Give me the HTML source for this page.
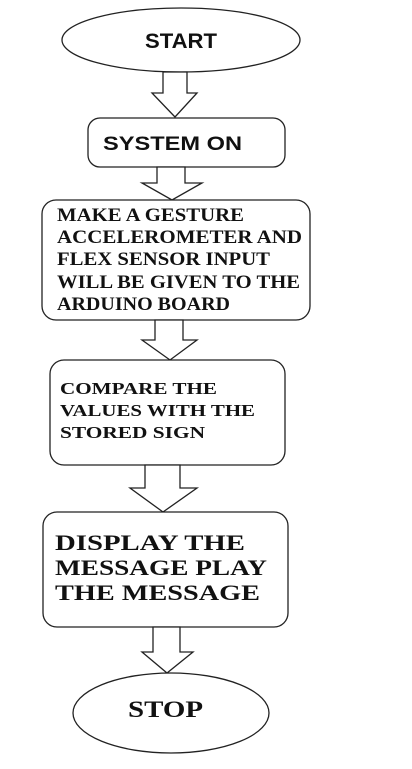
<!DOCTYPE html>
<html><head><meta charset="utf-8"><style>
html,body{margin:0;padding:0;background:#fff;}
svg{display:block;}
.s{font-family:"Liberation Sans",Arial,sans-serif;font-weight:bold;fill:#111;}
.t{font-family:"Liberation Serif","Times New Roman",serif;font-weight:bold;fill:#111;}
</style></head><body>
<svg width="412" height="769" viewBox="0 0 412 769" xmlns="http://www.w3.org/2000/svg">
<g fill="#fff" stroke="#222" stroke-width="1.3">
<ellipse cx="181" cy="40" rx="119" ry="32"/>
<polygon points="163,72 187,72 187,93 197,93 175,117 152,93 163,93"/>
<rect x="88" y="118" width="197" height="49" rx="12"/>
<polygon points="157,167 185,167 185,183 202,183 172,200 142,183 157,183"/>
<rect x="42" y="200" width="268" height="120" rx="14"/>
<polygon points="155,320 183,320 183,340 197,340 170,360 142,340 155,340"/>
<rect x="50" y="360" width="235" height="105" rx="14"/>
<polygon points="145,465 180,465 180,488 197,488 163,512 130,488 145,488"/>
<rect x="43" y="512" width="245" height="115" rx="14"/>
<polygon points="153,627 180,627 180,652 193,652 167,673 142,652 153,652"/>
<ellipse cx="171" cy="713" rx="98" ry="40"/>
</g>
<text class="s" x="145" y="48" font-size="21" textLength="72" lengthAdjust="spacingAndGlyphs">START</text>
<text class="s" x="103" y="150" font-size="19" textLength="139" lengthAdjust="spacingAndGlyphs">SYSTEM ON</text>
<g class="t" font-size="18.5" lengthAdjust="spacingAndGlyphs">
<text x="57" y="221" textLength="187" lengthAdjust="spacingAndGlyphs">MAKE A GESTURE</text>
<text x="57" y="243" textLength="245" lengthAdjust="spacingAndGlyphs">ACCELEROMETER AND</text>
<text x="57" y="265" textLength="213" lengthAdjust="spacingAndGlyphs">FLEX SENSOR INPUT</text>
<text x="57" y="288" textLength="243" lengthAdjust="spacingAndGlyphs">WILL BE GIVEN TO THE</text>
<text x="57" y="310" textLength="173" lengthAdjust="spacingAndGlyphs">ARDUINO BOARD</text>
</g>
<g class="t" font-size="16.5">
<text x="60" y="394" textLength="157" lengthAdjust="spacingAndGlyphs">COMPARE THE</text>
<text x="60" y="416" textLength="195" lengthAdjust="spacingAndGlyphs">VALUES WITH THE</text>
<text x="60" y="438" textLength="145" lengthAdjust="spacingAndGlyphs">STORED SIGN</text>
</g>
<g class="t" font-size="22.5">
<text x="55" y="550" textLength="190" lengthAdjust="spacingAndGlyphs">DISPLAY THE</text>
<text x="55" y="575" textLength="212" lengthAdjust="spacingAndGlyphs">MESSAGE PLAY</text>
<text x="55" y="600" textLength="205" lengthAdjust="spacingAndGlyphs">THE MESSAGE</text>
</g>
<text class="t" x="128" y="717" font-size="23.5" textLength="75" lengthAdjust="spacingAndGlyphs">STOP</text>
</svg>
</body></html>
